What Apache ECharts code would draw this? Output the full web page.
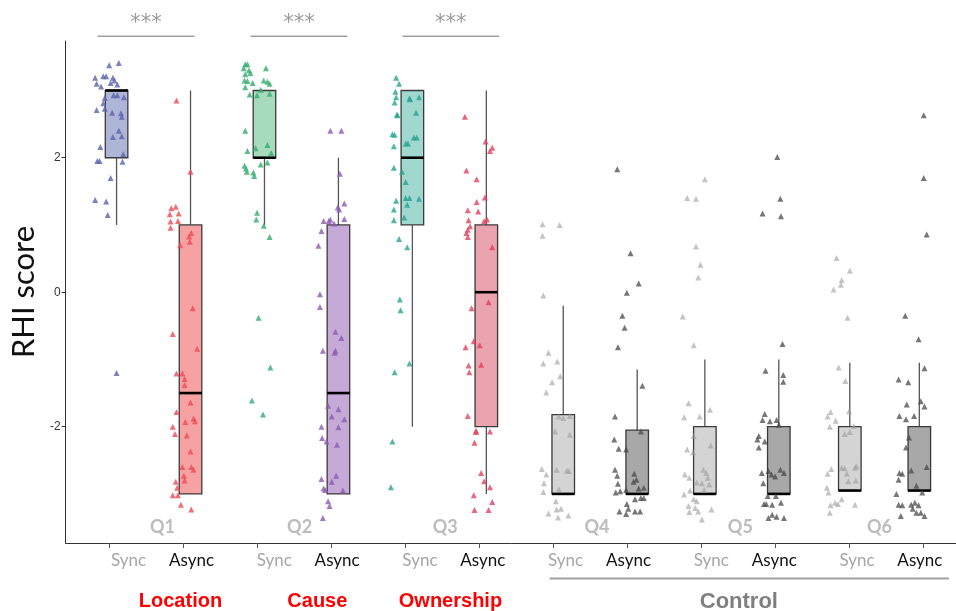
<!DOCTYPE html>
<html>
<head>
<meta charset="utf-8">
<script src="https://cdn.jsdelivr.net/npm/echarts/dist/echarts.min.js"></script>
<style>html,body{margin:0;padding:0;background:#fff}#c{width:956px;height:611px}</style>
</head>
<body>
<div id="c"></div>
<script>
// ---------------- DATA ----------------
const questions = ['Q1', 'Q2', 'Q3', 'Q4', 'Q5', 'Q6'];
const conditions = ['Sync', 'Async'];
const groupNames = ['Location', 'Cause', 'Ownership', 'Control'];
const sigLabels = ['***', '***', '***'];
const yTicks = [-2, 0, 2];

// box stats per group (Q1 Sync, Q1 Async, ... Q6 Async): [lowWhisker, Q1, median, Q3, highWhisker]
const boxStats = [
  [1, 2, 3, 3, 3],
  [-3, -3, -1.5, 1, 3],
  [1, 2, 2, 3, 3],
  [-3, -3, -1.5, 1, 2],
  [-2, 1, 2, 3, 3],
  [-3, -2, 0, 1, 3],
  [-3, -3, -3, -1.82, -0.2],
  [-3, -3, -3, -2.05, -1.15],
  [-3, -3, -3, -2, -1],
  [-3, -3, -3, -2, -1],
  [-2.95, -2.95, -2.95, -2, -1.05],
  [-2.95, -2.95, -2.95, -2, -1.05]
];

// jittered points: [x jitter (fraction of category step), RHI score]
const ptsQ1Sync = [[-0.10,3.375],[0.03,3.41],[-0.29,3.19],[-0.18,3.21],[-0.14,3.21],[-0.05,3.19],[-0.03,3.15],[-0.27,3.10],[-0.21,3.06],[-0.08,3.11],[0.01,3.09],[-0.04,2.93],[0.01,2.93],[0.10,2.90],[-0.16,2.89],[-0.18,2.81],[-0.16,2.73],[-0.27,2.71],[-0.06,2.67],[0.06,2.66],[0.07,2.61],[0.03,2.40],[-0.05,2.31],[0.07,2.32],[-0.22,2.16],[-0.26,1.95],[-0.23,1.95],[0.09,2.05],[0.08,1.94],[-0.08,1.70],[-0.29,1.37],[-0.14,1.35],[-0.12,1.15],[0.00,-1.20]];
const ptsQ1Async = [[-0.19,2.85],[0,1.79],[-0.26,1.25],[-0.20,1.27],[-0.28,1.16],[-0.16,1.17],[-0.27,1.05],[-0.17,1.06],[-0.27,0.96],[0.01,0.88],[-0.02,0.83],[-0.14,0.70],[-0.01,0.75],[0.03,-0.24],[-0.24,-0.62],[0.09,-0.84],[-0.19,-1.21],[-0.11,-1.21],[-0.08,-1.29],[-0.08,-1.38],[0,-1.64],[-0.19,-1.78],[-0.07,-1.93],[0.04,-1.88],[0.06,-1.92],[-0.24,-2.0],[-0.21,-2.11],[-0.05,-2.13],[0,-2.37],[-0.11,-2.60],[0.01,-2.60],[0.04,-2.64],[-0.09,-2.73],[-0.08,-2.80],[-0.20,-2.82],[-0.18,-2.91],[-0.24,-3.02],[-0.17,-3.02],[-0.13,-3.16],[0.01,-3.23]];
const ptsQ2Sync = [[-0.26,3.39],[-0.23,3.39],[-0.28,3.33],[-0.21,3.30],[-0.19,3.26],[-0.26,3.24],[-0.27,3.15],[-0.23,3.14],[-0.16,3.11],[-0.26,3.05],[0.02,3.33],[-0.01,3.15],[0.04,3.13],[0.07,3.10],[-0.20,2.94],[-0.10,2.93],[-0.05,3.01],[0.07,2.95],[-0.26,2.40],[-0.12,2.14],[0.04,2.19],[0.09,2.07],[-0.23,2.10],[-0.27,1.88],[-0.25,1.84],[-0.24,1.79],[-0.15,1.78],[-0.14,1.73],[-0.05,1.90],[0.04,1.93],[-0.10,1.18],[-0.11,1.08],[-0.01,0.99],[0.07,0.82],[-0.08,-0.38],[0.08,-1.12],[-0.17,-1.61],[-0.02,-1.82]];
const ptsQ2Async = [[-0.11,2.40],[0.04,2.40],[0.02,1.76],[0.08,1.32],[-0.01,1.26],[0.01,1.23],[-0.20,1.06],[-0.13,1.06],[-0.11,1.08],[0.08,1.09],[-0.06,1.02],[-0.23,0.91],[-0.27,0.69],[-0.25,-0.03],[-0.25,-0.22],[-0.04,-0.59],[0.04,-0.68],[-0.21,-0.87],[-0.05,-0.90],[-0.04,-0.87],[-0.14,-1.69],[0,-1.74],[-0.09,-1.85],[0.08,-1.89],[-0.23,-2.0],[-0.22,-2.17],[-0.16,-2.22],[0,-2.01],[-0.02,-2.27],[-0.23,-2.78],[-0.03,-2.73],[-0.09,-2.82],[-0.20,-2.92],[-0.18,-2.94],[0.06,-2.95],[-0.14,-3.11],[-0.12,-3.18],[-0.21,-3.36]];
const ptsQ3Sync = [[-0.22,3.19],[-0.18,3.10],[-0.23,2.98],[-0.22,2.90],[-0.24,2.82],[-0.21,2.64],[-0.20,2.63],[-0.04,2.88],[0.09,2.90],[0.05,2.67],[-0.03,2.87],[-0.27,2.35],[-0.24,2.34],[-0.25,2.17],[-0.09,2.21],[-0.06,2.21],[0.02,2.30],[0.06,2.30],[-0.25,1.85],[-0.14,1.79],[-0.09,1.64],[-0.22,1.36],[-0.09,1.40],[-0.04,1.40],[0.09,1.39],[-0.25,1.23],[-0.07,1.30],[-0.25,1.07],[-0.11,1.11],[-0.18,0.79],[-0.07,0.67],[-0.17,-0.11],[-0.16,-0.27],[-0.04,-1.06],[-0.24,-1.19],[-0.27,-2.22],[-0.29,-2.90]];
const ptsQ3Async = [[-0.29,2.61],[-0.01,2.24],[0.08,2.15],[0.05,2.10],[-0.27,1.81],[-0.13,1.68],[-0.13,1.34],[-0.02,1.41],[-0.25,1.22],[-0.11,1.20],[-0.24,1.07],[-0.22,0.98],[-0.25,0.93],[-0.27,0.88],[-0.25,0.82],[0.01,1.08],[-0.03,1.06],[0.08,0.67],[0.03,-0.15],[-0.20,-0.24],[-0.17,-0.73],[-0.09,-0.79],[-0.28,-0.82],[-0.24,-1.09],[-0.07,-1.08],[-0.23,-1.19],[-0.25,-1.84],[-0.14,-2.06],[-0.14,-2.08],[0.05,-2.07],[-0.16,-2.24],[-0.07,-2.69],[-0.03,-2.81],[0.05,-2.90],[-0.17,-3.02],[0.08,-3.12],[-0.16,-3.24],[0.03,-3.24]];
const ptsQ4Sync = [[-0.28,1.01],[-0.28,0.84],[-0.05,1.0],[-0.27,-0.05],[-0.20,-0.90],[-0.27,-1.06],[-0.08,-1.03],[-0.04,-1.25],[-0.15,-1.34],[-0.23,-1.49],[-0.06,-1.85],[0,-1.87],[0.09,-1.84],[-0.11,-2.07],[0.09,-2.12],[-0.29,-2.63],[-0.23,-2.71],[-0.09,-2.64],[0.05,-2.65],[0.08,-2.66],[-0.26,-2.84],[-0.27,-2.97],[-0.06,-2.93],[-0.10,-3.11],[-0.09,-3.23],[-0.20,-3.29],[-0.03,-3.22],[-0.07,-3.35],[0.07,-3.32]];
const ptsQ4Async = [[-0.27,1.83],[-0.09,0.58],[0.02,0.13],[-0.14,-0.01],[-0.20,-0.35],[-0.17,-0.53],[-0.26,-0.82],[0.07,-1.39],[-0.30,-1.85],[-0.31,-2.19],[-0.25,-2.33],[-0.15,-2.34],[0.05,-2.07],[-0.30,-2.64],[-0.27,-2.73],[-0.04,-2.70],[-0.01,-2.79],[-0.05,-2.82],[-0.26,-2.85],[-0.23,-2.96],[-0.29,-2.98],[-0.15,-2.94],[0.02,-2.92],[0.09,-2.91],[0.05,-3.06],[0.09,-3.06],[-0.03,-3.08],[-0.14,-3.15],[-0.12,-3.22],[-0.24,-3.26],[-0.15,-3.30],[-0.03,-3.26],[0.04,-3.26]];
const ptsQ5Sync = [[0,1.68],[-0.24,1.40],[-0.12,1.39],[-0.12,0.68],[-0.06,0.41],[-0.09,0.22],[-0.30,-0.36],[-0.15,-0.79],[-0.22,-1.65],[-0.28,-1.86],[-0.07,-1.85],[0.07,-1.75],[-0.15,-2.14],[-0.24,-2.34],[-0.16,-2.38],[0.08,-2.28],[-0.27,-2.71],[-0.21,-2.76],[-0.02,-2.64],[0.02,-2.69],[0.04,-2.76],[-0.11,-2.83],[-0.04,-2.84],[0.06,-2.86],[-0.28,-3.01],[-0.20,-2.95],[-0.01,-2.94],[-0.15,-3.08],[-0.11,-3.11],[-0.22,-3.18],[-0.13,-3.21],[-0.21,-3.27],[-0.09,-3.26],[0.09,-3.23],[-0.04,-3.38]];
const ptsQ5Async = [[-0.02,2.01],[0.02,1.39],[-0.22,1.17],[0.03,1.13],[0.05,-0.77],[-0.18,-1.17],[0.06,-1.23],[0.06,-1.33],[-0.19,-1.81],[-0.22,-1.90],[-0.12,-1.92],[-0.03,-1.90],[0,-1.97],[-0.27,-2.14],[-0.29,-2.19],[-0.19,-2.22],[-0.27,-2.31],[-0.14,-2.66],[-0.10,-2.71],[-0.05,-2.74],[0.02,-2.64],[0.07,-2.69],[-0.23,-2.69],[-0.21,-2.84],[-0.15,-3.03],[-0.04,-3.03],[-0.20,-3.15],[-0.17,-3.15],[-0.09,-3.16],[0.03,-3.13],[-0.14,-3.36],[-0.09,-3.31],[-0.03,-3.34],[0.07,-3.36]];
const ptsQ6Sync = [[-0.18,0.51],[0,0.32],[-0.11,0.18],[-0.12,0.11],[-0.22,0.04],[-0.03,-0.38],[-0.15,-1.12],[-0.06,-1.32],[-0.26,-1.78],[-0.30,-1.85],[-0.19,-1.91],[-0.27,-2.0],[-0.01,-1.77],[0.05,-1.99],[-0.07,-2.11],[0,-2.08],[-0.30,-2.70],[-0.25,-2.63],[-0.11,-2.61],[-0.07,-2.62],[0.07,-2.61],[0.09,-2.59],[-0.04,-2.70],[-0.02,-2.81],[0.08,-2.80],[-0.31,-2.91],[-0.29,-2.98],[-0.20,-3.13],[-0.26,-3.17],[-0.16,-3.15],[-0.11,-3.08],[-0.27,-3.28],[0.07,-3.16]];
const ptsQ6Async = [[0.06,2.63],[0.06,1.70],[0.10,0.86],[-0.19,-0.35],[-0.01,-0.70],[0.07,-1.13],[-0.28,-1.30],[-0.15,-1.34],[-0.17,-1.67],[0.02,-1.62],[0.07,-1.70],[-0.27,-1.84],[-0.18,-1.89],[-0.07,-1.84],[-0.14,-2.16],[-0.18,-2.31],[-0.27,-2.69],[-0.23,-2.70],[-0.11,-2.65],[0.10,-2.60],[-0.28,-2.79],[-0.04,-2.88],[-0.31,-3.0],[0.04,-2.98],[-0.28,-3.16],[-0.23,-3.17],[-0.11,-3.16],[-0.06,-3.13],[-0.01,-3.17],[-0.09,-3.22],[-0.04,-3.28],[0.02,-3.28],[0.07,-3.33],[-0.25,-3.33]];

const groupPoints = [ptsQ1Sync, ptsQ1Async, ptsQ2Sync, ptsQ2Async, ptsQ3Sync, ptsQ3Async,
                     ptsQ4Sync, ptsQ4Async, ptsQ5Sync, ptsQ5Async, ptsQ6Sync, ptsQ6Async];

// ---------------- LAYOUT / STYLE ----------------
const X_MIN = -0.5946, X_MAX = 11.446;      // x axis in category steps
const Y_MIN = -3.73, Y_MAX = 3.736;
const tickPos = [0,1,2,3,4,5,6,7,8,9,10,11];
const boxPos = [0.095, 1.095, 2.095, 3.095, 4.095, 5.095, 6.135, 7.135, 8.05, 9.05, 10.01, 10.95];
const labelPos = [0.257, 1.108, 2.227, 3.078, 4.197, 5.048, 6.167, 7.018, 8.137, 8.988, 10.107, 10.958];
const qLabelPos = [0.716, 2.57, 4.54, 6.59, 8.53, 10.41];
const qLabelY = -3.5;
const sigSpans = [[-0.162, 1.149], [1.905, 3.216], [3.96, 5.27]];
const sigLineY = 3.806, sigTextY = 4.0;
const groupLabelPos = [0.959, 2.81, 4.61, 8.51];
const groupLabelY = -4.6;
const controlLine = [5.95, 11.35], controlLineY = -4.257;
const BOX_W = 0.305;

const boxFill = ['#aeb5d6', '#f7a2a2', '#a7dbbe', '#c5a9d7', '#a0d7cf', '#eba3af',
                 '#d4d4d4', '#a8a8a8', '#d4d4d4', '#a8a8a8', '#d4d4d4', '#a8a8a8'];
const ptColor = ['#5a64ad', '#ee4a55', '#33ad6d', '#8d5ab2', '#27a492', '#e2405e',
                 '#9c9c9c', '#4a4a4a', '#9c9c9c', '#4a4a4a', '#9c9c9c', '#4a4a4a'];
const ptOpacity = [0.8, 0.8, 0.8, 0.8, 0.8, 0.8, 0.6, 0.75, 0.6, 0.75, 0.6, 0.75];
const groupColor = ['#ff0000', '#ff0000', '#ff0000', '#7f7f7f'];

const chart = echarts.init(document.getElementById('c'), null, {renderer: 'canvas'});

const series = [];
series.push({
  type: 'custom',
  z: 2,
  silent: true,
  data: boxStats.map((s, i) => [boxPos[i]].concat(s)),
  renderItem: function (params, api) {
    const i = params.dataIndex;
    const x = api.value(0);
    const lo = api.value(1), q1 = api.value(2), med = api.value(3), q3 = api.value(4), hi = api.value(5);
    const hw = api.size([BOX_W, 0])[0] / 2;
    const pHi = api.coord([x, hi]), pQ3 = api.coord([x, q3]), pQ1 = api.coord([x, q1]);
    const pLo = api.coord([x, lo]), pMed = api.coord([x, med]);
    const ch = [];
    if (hi > q3) ch.push({type: 'line', shape: {x1: pHi[0], y1: pHi[1], x2: pQ3[0], y2: pQ3[1]}, style: {stroke: '#555', lineWidth: 1.3}});
    if (lo < q1) ch.push({type: 'line', shape: {x1: pQ1[0], y1: pQ1[1], x2: pLo[0], y2: pLo[1]}, style: {stroke: '#555', lineWidth: 1.3}});
    ch.push({type: 'rect', shape: {x: pQ3[0] - hw, y: pQ3[1], width: hw * 2, height: pQ1[1] - pQ3[1]},
             style: {fill: boxFill[i], stroke: '#3a3a3a', lineWidth: 1.3}});
    ch.push({type: 'line', shape: {x1: pMed[0] - hw, y1: pMed[1], x2: pMed[0] + hw, y2: pMed[1]},
             style: {stroke: '#000', lineWidth: 2.6}});
    return {type: 'group', children: ch};
  }
});

groupPoints.forEach((pts, i) => {
  series.push({
    type: 'scatter',
    z: 3,
    symbol: 'triangle',
    symbolSize: 6,
    silent: true,
    itemStyle: {color: ptColor[i], opacity: ptOpacity[i]},
    data: pts.map(p => [boxPos[i] + p[0], p[1]])
  });
});

series.push({
  type: 'scatter',
  z: 4,
  symbolSize: 0,
  silent: true,
  data: qLabelPos.map((x, k) => [x, qLabelY]),
  label: {
    show: true, position: 'inside',
    formatter: p => questions[p.dataIndex],
    fontFamily: 'Lato', fontWeight: 'bold', fontSize: 18, color: '#ababab'
  }
});

const option = {
  animation: false,
  backgroundColor: '#fff',
  grid: {left: 65, right: 0, top: 41, bottom: 68},
  xAxis: {
    type: 'value', min: X_MIN, max: X_MAX,
    splitLine: {show: false},
    axisLine: {show: true, onZero: false, lineStyle: {color: '#333', width: 1}},
    axisTick: {show: true, customValues: tickPos, length: 5, lineStyle: {color: '#555'}},
    axisLabel: {
      show: true, customValues: labelPos, margin: 9,
      formatter: function (v, idx) {
        const j = labelPos.indexOf(v);
        const c = conditions[(j < 0 ? idx : j) % 2];
        return c === 'Sync' ? '{s|' + c + '}' : '{a|' + c + '}';
      },
      rich: {
        s: {fontFamily: 'Lato', fontSize: 17, color: '#a6a6a6'},
        a: {fontFamily: 'Lato', fontSize: 17, color: '#111'}
      }
    }
  },
  yAxis: {
    type: 'value', min: Y_MIN, max: Y_MAX,
    splitLine: {show: false},
    name: 'RHI score', nameLocation: 'middle', nameRotate: 90, nameGap: 24,
    nameTextStyle: {fontFamily: 'Lato', fontSize: 31, color: '#111'},
    axisLine: {show: true, onZero: false, lineStyle: {color: '#333', width: 1}},
    axisTick: {show: true, customValues: yTicks, length: 4, lineStyle: {color: '#333'}},
    axisLabel: {show: true, customValues: yTicks, margin: 5, fontFamily: 'Liberation Sans', fontSize: 12, color: '#333'}
  },
  series: series
};
chart.setOption(option);

// annotations positioned through the chart's own coordinate conversion
const toPx = (x, y) => chart.convertToPixel({xAxisIndex: 0, yAxisIndex: 0}, [x, y]);
const graphics = [];
sigSpans.forEach((sp, k) => {
  const a = toPx(sp[0], sigLineY), b = toPx(sp[1], sigLineY);
  graphics.push({type: 'line', shape: {x1: a[0], y1: a[1], x2: b[0], y2: b[1]}, style: {stroke: '#a0a0a0', lineWidth: 1.5}});
  const t = toPx((sp[0] + sp[1]) / 2, sigTextY);
  graphics.push({type: 'text', x: t[0], y: t[1], style: {text: sigLabels[k], fontFamily: 'DejaVu Sans', fontSize: 21, fill: '#9a9a9a', align: 'center', verticalAlign: 'middle'}});
});
groupNames.forEach((g, k) => {
  const p = toPx(groupLabelPos[k], groupLabelY);
  graphics.push({type: 'text', x: p[0], y: p[1], style: {text: g, fontFamily: 'Liberation Sans', fontWeight: 'bold', fontSize: k === 3 ? 22 : 20, fill: groupColor[k], align: 'center', verticalAlign: 'middle'}});
});
{
  const a = toPx(controlLine[0], controlLineY), b = toPx(controlLine[1], controlLineY);
  graphics.push({type: 'line', shape: {x1: a[0], y1: a[1], x2: b[0], y2: b[1]}, style: {stroke: '#a0a0a0', lineWidth: 2}});
}
chart.setOption({graphic: graphics});
</script>
</body>
</html>
